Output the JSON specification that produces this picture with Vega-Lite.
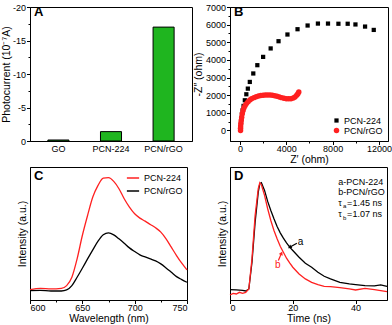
{
  "$schema": "https://vega.github.io/schema/vega-lite/v6.json",
  "padding": {"left": 0, "top": 2, "right": 0, "bottom": 1},
  "columns": 2,
  "spacing": {"row": 26, "column": 38},
  "bounds": "flush",
  "resolve": {"scale": {"color": "independent", "shape": "independent", "size": "independent"}},
  "concat": [
    {
      "width": 162, "height": 134,
      "title": {"text": "A", "offset": -16, "dx": 4},
      "data": {"values": [
        {"sample": "GO", "current": -0.15},
        {"sample": "PCN-224", "current": -1.4},
        {"sample": "PCN/rGO", "current": -17}
      ]},
      "mark": {"type": "bar", "color": "#1fb51f", "stroke": "black", "strokeWidth": 1},
      "encoding": {
        "x": {"field": "sample", "type": "nominal", "sort": null,
              "scale": {"paddingInner": 0.6, "paddingOuter": 0.34},
              "axis": {"title": null, "labelAngle": 0, "ticks": false, "labelPadding": 3}},
        "y": {"field": "current", "type": "quantitative",
              "scale": {"domain": [0, -20], "nice": false, "zero": false},
              "axis": {"title": "Photocurrent (10⁻⁷A)", "titlePadding": 1,
                       "values": [0, -2.5, -5, -7.5, -10, -12.5, -15, -17.5, -20],
                       "labelExpr": "datum.value % 5 === 0 ? toString(datum.value) : ''",
                       "tickSize": {"condition": {"test": "datum.value % 5 === 0", "value": 3.5}, "value": 2}}}
      }
    },
    {
      "width": 158, "height": 134,
      "title": {"text": "B", "offset": -16, "dx": 4},
      "data": {"values": [
        {"sample": "PCN-224", "zr": 40, "zi": 50},
        {"sample": "PCN-224", "zr": 60, "zi": 190},
        {"sample": "PCN-224", "zr": 90, "zi": 420},
        {"sample": "PCN-224", "zr": 120, "zi": 660},
        {"sample": "PCN-224", "zr": 170, "zi": 910},
        {"sample": "PCN-224", "zr": 230, "zi": 1140},
        {"sample": "PCN-224", "zr": 310, "zi": 1390},
        {"sample": "PCN-224", "zr": 420, "zi": 1710},
        {"sample": "PCN-224", "zr": 550, "zi": 2050},
        {"sample": "PCN-224", "zr": 680, "zi": 2370},
        {"sample": "PCN-224", "zr": 850, "zi": 2750},
        {"sample": "PCN-224", "zr": 1150, "zi": 3230},
        {"sample": "PCN-224", "zr": 1500, "zi": 3700},
        {"sample": "PCN-224", "zr": 2000, "zi": 4170},
        {"sample": "PCN-224", "zr": 2650, "zi": 4650},
        {"sample": "PCN-224", "zr": 3330, "zi": 5060},
        {"sample": "PCN-224", "zr": 4100, "zi": 5440},
        {"sample": "PCN-224", "zr": 4970, "zi": 5740},
        {"sample": "PCN-224", "zr": 5840, "zi": 5950},
        {"sample": "PCN-224", "zr": 6730, "zi": 6060},
        {"sample": "PCN-224", "zr": 7600, "zi": 6060},
        {"sample": "PCN-224", "zr": 8500, "zi": 6050},
        {"sample": "PCN-224", "zr": 9300, "zi": 6050},
        {"sample": "PCN-224", "zr": 9970, "zi": 6010},
        {"sample": "PCN-224", "zr": 10800, "zi": 5890},
        {"sample": "PCN-224", "zr": 11550, "zi": 5700},
        {"sample": "PCN/rGO", "zr": 50, "zi": 0},
        {"sample": "PCN/rGO", "zr": 50, "zi": 120},
        {"sample": "PCN/rGO", "zr": 60, "zi": 250},
        {"sample": "PCN/rGO", "zr": 80, "zi": 400},
        {"sample": "PCN/rGO", "zr": 110, "zi": 560},
        {"sample": "PCN/rGO", "zr": 150, "zi": 750},
        {"sample": "PCN/rGO", "zr": 200, "zi": 950},
        {"sample": "PCN/rGO", "zr": 270, "zi": 1130},
        {"sample": "PCN/rGO", "zr": 350, "zi": 1280},
        {"sample": "PCN/rGO", "zr": 450, "zi": 1410},
        {"sample": "PCN/rGO", "zr": 560, "zi": 1520},
        {"sample": "PCN/rGO", "zr": 700, "zi": 1630},
        {"sample": "PCN/rGO", "zr": 850, "zi": 1720},
        {"sample": "PCN/rGO", "zr": 1000, "zi": 1790},
        {"sample": "PCN/rGO", "zr": 1200, "zi": 1860},
        {"sample": "PCN/rGO", "zr": 1400, "zi": 1910},
        {"sample": "PCN/rGO", "zr": 1600, "zi": 1950},
        {"sample": "PCN/rGO", "zr": 1800, "zi": 1980},
        {"sample": "PCN/rGO", "zr": 2000, "zi": 2000},
        {"sample": "PCN/rGO", "zr": 2200, "zi": 2010},
        {"sample": "PCN/rGO", "zr": 2400, "zi": 2015},
        {"sample": "PCN/rGO", "zr": 2600, "zi": 2010},
        {"sample": "PCN/rGO", "zr": 2800, "zi": 1995},
        {"sample": "PCN/rGO", "zr": 3000, "zi": 1970},
        {"sample": "PCN/rGO", "zr": 3200, "zi": 1940},
        {"sample": "PCN/rGO", "zr": 3400, "zi": 1900},
        {"sample": "PCN/rGO", "zr": 3600, "zi": 1860},
        {"sample": "PCN/rGO", "zr": 3800, "zi": 1820},
        {"sample": "PCN/rGO", "zr": 4000, "zi": 1800},
        {"sample": "PCN/rGO", "zr": 4200, "zi": 1790},
        {"sample": "PCN/rGO", "zr": 4400, "zi": 1800},
        {"sample": "PCN/rGO", "zr": 4600, "zi": 1840},
        {"sample": "PCN/rGO", "zr": 4750, "zi": 1900},
        {"sample": "PCN/rGO", "zr": 4900, "zi": 1990},
        {"sample": "PCN/rGO", "zr": 5000, "zi": 2080},
        {"sample": "PCN/rGO", "zr": 5080, "zi": 2180}
      ]},
      "mark": {"type": "point", "filled": true, "opacity": 1},
      "encoding": {
        "x": {"field": "zr", "type": "quantitative",
              "scale": {"domain": [-860, 12780], "nice": false, "zero": false},
              "axis": {"title": "Z′ (ohm)", "format": "d", "labelPadding": 0, "titlePadding": 1,
                       "values": [0, 2000, 4000, 6000, 8000, 10000, 12000],
                       "labelExpr": "datum.value % 4000 === 0 ? toString(datum.value) : ''",
                       "tickSize": {"condition": {"test": "datum.value % 4000 === 0", "value": 3.5}, "value": 2}}},
        "y": {"field": "zi", "type": "quantitative",
              "scale": {"domain": [-600, 7000], "nice": false, "zero": false},
              "axis": {"title": "-Z″ (ohm)",
                       "values": [0, 500, 1000, 1500, 2000, 2500, 3000, 3500, 4000, 4500, 5000, 5500, 6000, 6500, 7000],
                       "labelExpr": "datum.value % 1000 === 0 ? toString(datum.value) : ''",
                       "tickSize": {"condition": {"test": "datum.value % 1000 === 0", "value": 3.5}, "value": 2}}},
        "color": {"field": "sample", "type": "nominal",
                  "scale": {"domain": ["PCN-224", "PCN/rGO"], "range": ["black", "#ff2020"]},
                  "legend": {"title": null, "orient": "bottom-right", "labelFontSize": 9, "rowPadding": 0, "offset": 5, "padding": 0, "symbolSize": 30, "labelOffset": 3}},
        "shape": {"field": "sample", "type": "nominal",
                  "scale": {"domain": ["PCN-224", "PCN/rGO"], "range": ["square", "circle"]}},
        "size": {"field": "sample", "type": "nominal",
                 "scale": {"domain": ["PCN-224", "PCN/rGO"], "range": [18, 30]}, "legend": null}
      }
    },
    {
      "width": 157, "height": 133,
      "title": {"text": "C", "offset": -16, "dx": 4},
      "data": {"values": [
        {"sample": "PCN-224", "wl": 600, "intensity": 31},
        {"sample": "PCN-224", "wl": 610, "intensity": 35},
        {"sample": "PCN-224", "wl": 620, "intensity": 33},
        {"sample": "PCN-224", "wl": 630, "intensity": 35},
        {"sample": "PCN-224", "wl": 635, "intensity": 43},
        {"sample": "PCN-224", "wl": 640, "intensity": 68},
        {"sample": "PCN-224", "wl": 645, "intensity": 123},
        {"sample": "PCN-224", "wl": 650, "intensity": 193},
        {"sample": "PCN-224", "wl": 655, "intensity": 253},
        {"sample": "PCN-224", "wl": 660, "intensity": 308},
        {"sample": "PCN-224", "wl": 665, "intensity": 343},
        {"sample": "PCN-224", "wl": 670, "intensity": 365},
        {"sample": "PCN-224", "wl": 675, "intensity": 366},
        {"sample": "PCN-224", "wl": 680, "intensity": 355},
        {"sample": "PCN-224", "wl": 685, "intensity": 333},
        {"sample": "PCN-224", "wl": 690, "intensity": 303},
        {"sample": "PCN-224", "wl": 695, "intensity": 278},
        {"sample": "PCN-224", "wl": 700, "intensity": 258},
        {"sample": "PCN-224", "wl": 705, "intensity": 245},
        {"sample": "PCN-224", "wl": 710, "intensity": 236},
        {"sample": "PCN-224", "wl": 715, "intensity": 226},
        {"sample": "PCN-224", "wl": 720, "intensity": 216},
        {"sample": "PCN-224", "wl": 725, "intensity": 203},
        {"sample": "PCN-224", "wl": 730, "intensity": 183},
        {"sample": "PCN-224", "wl": 735, "intensity": 158},
        {"sample": "PCN-224", "wl": 740, "intensity": 133},
        {"sample": "PCN-224", "wl": 745, "intensity": 110},
        {"sample": "PCN-224", "wl": 750, "intensity": 90},
        {"sample": "PCN/rGO", "wl": 600, "intensity": 28},
        {"sample": "PCN/rGO", "wl": 610, "intensity": 29},
        {"sample": "PCN/rGO", "wl": 620, "intensity": 27},
        {"sample": "PCN/rGO", "wl": 630, "intensity": 27},
        {"sample": "PCN/rGO", "wl": 635, "intensity": 30},
        {"sample": "PCN/rGO", "wl": 640, "intensity": 43},
        {"sample": "PCN/rGO", "wl": 645, "intensity": 68},
        {"sample": "PCN/rGO", "wl": 650, "intensity": 95},
        {"sample": "PCN/rGO", "wl": 655, "intensity": 123},
        {"sample": "PCN/rGO", "wl": 660, "intensity": 150},
        {"sample": "PCN/rGO", "wl": 665, "intensity": 176},
        {"sample": "PCN/rGO", "wl": 670, "intensity": 195},
        {"sample": "PCN/rGO", "wl": 675, "intensity": 201},
        {"sample": "PCN/rGO", "wl": 680, "intensity": 195},
        {"sample": "PCN/rGO", "wl": 685, "intensity": 183},
        {"sample": "PCN/rGO", "wl": 690, "intensity": 170},
        {"sample": "PCN/rGO", "wl": 695, "intensity": 156},
        {"sample": "PCN/rGO", "wl": 700, "intensity": 145},
        {"sample": "PCN/rGO", "wl": 705, "intensity": 135},
        {"sample": "PCN/rGO", "wl": 710, "intensity": 129},
        {"sample": "PCN/rGO", "wl": 715, "intensity": 123},
        {"sample": "PCN/rGO", "wl": 720, "intensity": 117},
        {"sample": "PCN/rGO", "wl": 725, "intensity": 108},
        {"sample": "PCN/rGO", "wl": 730, "intensity": 96},
        {"sample": "PCN/rGO", "wl": 735, "intensity": 83},
        {"sample": "PCN/rGO", "wl": 740, "intensity": 70},
        {"sample": "PCN/rGO", "wl": 745, "intensity": 61},
        {"sample": "PCN/rGO", "wl": 750, "intensity": 53}
      ]},
      "mark": {"type": "line", "strokeWidth": 1.3, "interpolate": "monotone"},
      "encoding": {
        "x": {"field": "wl", "type": "quantitative",
              "scale": {"domain": [600, 750], "nice": false, "zero": false},
              "axis": {"title": "Wavelength (nm)", "labelPadding": 0, "titlePadding": 1,
                       "values": [600, 625, 650, 675, 700, 725, 750],
                       "labelExpr": "datum.value % 50 === 0 ? toString(datum.value) : ''",
                       "tickSize": {"condition": {"test": "datum.value % 50 === 0", "value": 3.5}, "value": 2}}},
        "y": {"field": "intensity", "type": "quantitative",
              "scale": {"domain": [0, 398], "nice": false},
              "axis": {"title": "Intensity (a.u.)", "labels": false, "ticks": false, "titlePadding": 3}},
        "color": {"field": "sample", "type": "nominal",
                  "scale": {"domain": ["PCN-224", "PCN/rGO"], "range": ["#ff2020", "black"]},
                  "legend": {"title": null, "orient": "top-right", "symbolType": "stroke", "symbolStrokeWidth": 1.5, "symbolSize": 150, "labelFontSize": 9, "rowPadding": 1, "offset": 4, "padding": 0}}
      }
    },
    {
      "width": 157, "height": 133,
      "title": {"text": "D", "offset": -16, "dx": 4},
      "resolve": {"scale": {"color": "shared"}},
      "layer": [
        {
          "data": {"values": [
            {"sample": "a", "time": 0, "intensity": 31},
            {"sample": "a", "time": 2, "intensity": 30},
            {"sample": "a", "time": 4, "intensity": 29},
            {"sample": "a", "time": 5, "intensity": 27},
            {"sample": "a", "time": 6, "intensity": 33},
            {"sample": "a", "time": 7, "intensity": 113},
            {"sample": "a", "time": 8, "intensity": 233},
            {"sample": "a", "time": 9, "intensity": 323},
            {"sample": "a", "time": 9.5, "intensity": 348},
            {"sample": "a", "time": 10, "intensity": 351},
            {"sample": "a", "time": 11, "intensity": 328},
            {"sample": "a", "time": 12, "intensity": 295},
            {"sample": "a", "time": 13, "intensity": 268},
            {"sample": "a", "time": 14, "intensity": 243},
            {"sample": "a", "time": 15, "intensity": 220},
            {"sample": "a", "time": 16, "intensity": 201},
            {"sample": "a", "time": 17, "intensity": 185},
            {"sample": "a", "time": 18, "intensity": 171},
            {"sample": "a", "time": 19, "intensity": 158},
            {"sample": "a", "time": 20, "intensity": 148},
            {"sample": "a", "time": 22, "intensity": 128},
            {"sample": "a", "time": 24, "intensity": 110},
            {"sample": "a", "time": 26, "intensity": 98},
            {"sample": "a", "time": 28, "intensity": 83},
            {"sample": "a", "time": 30, "intensity": 71},
            {"sample": "a", "time": 32, "intensity": 63},
            {"sample": "a", "time": 35, "intensity": 53},
            {"sample": "a", "time": 38, "intensity": 48},
            {"sample": "a", "time": 40, "intensity": 46},
            {"sample": "a", "time": 43, "intensity": 43},
            {"sample": "a", "time": 46, "intensity": 42},
            {"sample": "a", "time": 48, "intensity": 45},
            {"sample": "a", "time": 50, "intensity": 41},
            {"sample": "b", "time": 0, "intensity": 15},
            {"sample": "b", "time": 1, "intensity": 20},
            {"sample": "b", "time": 2, "intensity": 18},
            {"sample": "b", "time": 3, "intensity": 23},
            {"sample": "b", "time": 4, "intensity": 20},
            {"sample": "b", "time": 5, "intensity": 23},
            {"sample": "b", "time": 6, "intensity": 33},
            {"sample": "b", "time": 7, "intensity": 123},
            {"sample": "b", "time": 8, "intensity": 253},
            {"sample": "b", "time": 9, "intensity": 333},
            {"sample": "b", "time": 9.5, "intensity": 351},
            {"sample": "b", "time": 10, "intensity": 345},
            {"sample": "b", "time": 11, "intensity": 313},
            {"sample": "b", "time": 12, "intensity": 273},
            {"sample": "b", "time": 13, "intensity": 238},
            {"sample": "b", "time": 14, "intensity": 208},
            {"sample": "b", "time": 15, "intensity": 183},
            {"sample": "b", "time": 16, "intensity": 161},
            {"sample": "b", "time": 17, "intensity": 143},
            {"sample": "b", "time": 18, "intensity": 125},
            {"sample": "b", "time": 19, "intensity": 111},
            {"sample": "b", "time": 20, "intensity": 98},
            {"sample": "b", "time": 22, "intensity": 78},
            {"sample": "b", "time": 24, "intensity": 63},
            {"sample": "b", "time": 26, "intensity": 53},
            {"sample": "b", "time": 28, "intensity": 46},
            {"sample": "b", "time": 30, "intensity": 41},
            {"sample": "b", "time": 32, "intensity": 40},
            {"sample": "b", "time": 35, "intensity": 37},
            {"sample": "b", "time": 38, "intensity": 33},
            {"sample": "b", "time": 40, "intensity": 30},
            {"sample": "b", "time": 43, "intensity": 35},
            {"sample": "b", "time": 46, "intensity": 31},
            {"sample": "b", "time": 48, "intensity": 28},
            {"sample": "b", "time": 50, "intensity": 25}
          ]},
          "mark": {"type": "line", "strokeWidth": 1.3},
          "encoding": {
            "x": {"field": "time", "type": "quantitative",
                  "scale": {"domain": [0, 50], "nice": false, "zero": false},
                  "axis": {"title": "Time (ns)", "labelPadding": 0, "titlePadding": 1,
                           "values": [0, 5, 10, 15, 20, 25, 30, 35, 40, 45, 50],
                           "labelExpr": "datum.value % 10 === 0 ? toString(datum.value) : ''",
                           "tickSize": {"condition": {"test": "datum.value % 10 === 0", "value": 3.5}, "value": 2}}},
            "y": {"field": "intensity", "type": "quantitative",
                  "scale": {"domain": [0, 398], "nice": false},
                  "axis": {"title": "Intensity (a.u.)", "labels": false, "ticks": false, "titlePadding": 3}},
            "color": {"field": "sample", "type": "nominal",
                      "scale": {"domain": ["a", "b"], "range": ["black", "#ff2020"]}, "legend": null}
          }
        },
        {
          "data": {"values": [
            {"label": "a-PCN-224", "time": 34.5, "intensity": 353},
            {"label": "b-PCN/rGO", "time": 34.5, "intensity": 323},
            {"label": "τ", "time": 34.5, "intensity": 291},
            {"label": "τ", "time": 34.5, "intensity": 256},
            {"label": "=1.45 ns", "time": 37.3, "intensity": 291},
            {"label": "=1.07 ns", "time": 37.3, "intensity": 256}
          ]},
          "mark": {"type": "text", "align": "left", "baseline": "middle", "fontSize": 9, "color": "black"},
          "encoding": {
            "x": {"field": "time", "type": "quantitative"},
            "y": {"field": "intensity", "type": "quantitative"},
            "text": {"field": "label"}
          }
        },
        {
          "data": {"values": [
            {"label": "a", "time": 36.0, "intensity": 281},
            {"label": "b", "time": 36.0, "intensity": 246}
          ]},
          "mark": {"type": "text", "align": "left", "baseline": "middle", "fontSize": 6, "color": "black"},
          "encoding": {
            "x": {"field": "time", "type": "quantitative"},
            "y": {"field": "intensity", "type": "quantitative"},
            "text": {"field": "label"}
          }
        },
        {
          "data": {"values": [
            {"curve": "a", "label": "a", "time": 21.6, "intensity": 173},
            {"curve": "b", "label": "b", "time": 14.3, "intensity": 106}
          ]},
          "mark": {"type": "text", "align": "left", "baseline": "middle", "fontSize": 10},
          "encoding": {
            "x": {"field": "time", "type": "quantitative"},
            "y": {"field": "intensity", "type": "quantitative"},
            "text": {"field": "label"},
            "color": {"field": "curve", "type": "nominal", "scale": {"domain": ["a", "b"], "range": ["black", "#ff2020"]}, "legend": null}
          }
        },
        {
          "data": {"values": [
            {"curve": "a", "time": 21.3, "intensity": 170, "time2": 19.0, "intensity2": 158},
            {"curve": "b", "time": 15.4, "intensity": 118, "time2": 16.4, "intensity2": 140}
          ]},
          "mark": {"type": "rule", "strokeWidth": 1.2},
          "encoding": {
            "x": {"field": "time", "type": "quantitative"},
            "y": {"field": "intensity", "type": "quantitative"},
            "x2": {"field": "time2"},
            "y2": {"field": "intensity2"},
            "color": {"field": "curve", "type": "nominal", "scale": {"domain": ["a", "b"], "range": ["black", "#ff2020"]}, "legend": null}
          }
        },
        {
          "data": {"values": [
            {"curve": "a", "time": 19.0, "intensity": 158, "angle": 239},
            {"curve": "b", "time": 16.4, "intensity": 140, "angle": 24}
          ]},
          "mark": {"type": "point", "shape": "triangle-up", "filled": true, "size": 18, "opacity": 1},
          "encoding": {
            "x": {"field": "time", "type": "quantitative"},
            "y": {"field": "intensity", "type": "quantitative"},
            "angle": {"field": "angle", "type": "quantitative", "scale": null},
            "color": {"field": "curve", "type": "nominal", "scale": {"domain": ["a", "b"], "range": ["black", "#ff2020"]}, "legend": null}
          }
        }
      ]
    }
  ],
  "config": {
    "font": "Liberation Sans",
    "view": {"stroke": "black", "strokeWidth": 1},
    "axis": {"domainColor": "black", "tickColor": "black", "labelColor": "black", "titleColor": "black",
             "labelFont": "Liberation Sans", "titleFont": "Liberation Sans", "labelFontSize": 9, "titleFontSize": 10.5,
             "titleFontWeight": "normal", "grid": false, "tickSize": 3.5, "labelPadding": 1, "titlePadding": 2},
    "legend": {"labelFont": "Liberation Sans", "labelColor": "black"},
    "title": {"fontSize": 13, "fontWeight": "bold", "anchor": "start", "color": "black", "frame": "group", "font": "Liberation Sans"}
  }
}
